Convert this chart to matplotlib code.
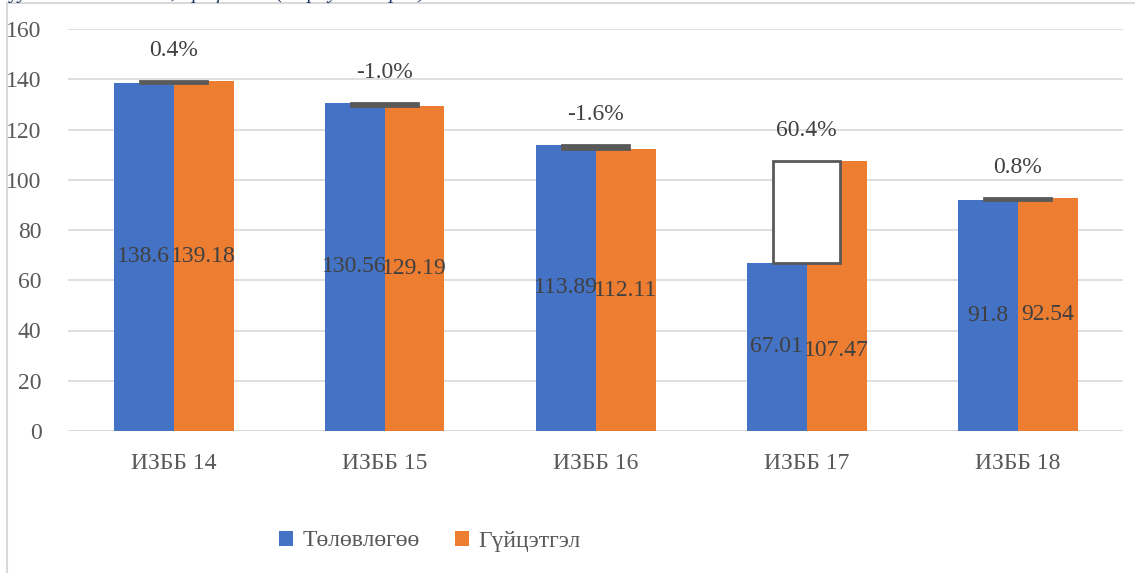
import matplotlib
matplotlib.use('agg')
from matplotlib import pyplot as plt
from matplotlib.patches import Patch, Rectangle
import numpy as np

plt.rcParams['font.family'] = ['Liberation Serif', 'DejaVu Serif']

# data
categories = ["ИЗББ 14", "ИЗББ 15", "ИЗББ 16", "ИЗББ 17", "ИЗББ 18"]
plan = [138.6, 130.56, 113.89, 67.01, 91.8]
actual = [139.18, 129.19, 112.11, 107.47, 92.54]
plan_labels = ["138.6", "130.56", "113.89", "67.01", "91.8"]
actual_labels = ["139.18", "129.19", "112.11", "107.47", "92.54"]
series_names = ["Төлөвлөгөө", "Гүйцэтгэл"]

BLUE = '#4472c4'
ORANGE = '#ed7d31'
DARK = '#595959'
GRID = '#d9d9d9'
LABEL = '#404040'

fig = plt.figure(figsize=(11.35, 5.73), dpi=100)
ax = fig.add_axes([68 / 1135, 1 - 431 / 573, 1055 / 1135, 402 / 573])

x = np.arange(len(categories))
w = 60 / 211

ax.bar(x - w / 2, plan, width=w, color=BLUE, zorder=2)
ax.bar(x + w / 2, actual, width=w, color=ORANGE, zorder=2)

# up/down bars between the two series
for i in range(len(x)):
    lo, hi = min(plan[i], actual[i]), max(plan[i], actual[i])
    face = 'white' if actual[i] >= plan[i] else DARK
    ax.add_patch(Rectangle((x[i] - 0.16, lo), 0.32, hi - lo, facecolor=face,
                           edgecolor=DARK, linewidth=2, zorder=3))
    pct = (actual[i] - plan[i]) / plan[i] * 100
    ax.annotate(f"{pct:.1f}%", (x[i], hi), xytext=(0, 22), textcoords='offset points',
                ha='center', va='center', fontsize=17, color=LABEL, zorder=5)

# value labels in the middle of the bars
for i in range(len(x)):
    ax.text(x[i] - w / 2, plan[i] / 2, plan_labels[i], ha='center', va='center',
            fontsize=17, color=LABEL, zorder=5)
    y_act = actual[i] / 2
    if actual[i] / plan[i] > 1.5:  # label moved down next to the short bar
        y_act = plan[i] / 2 - 1.5
    ax.text(x[i] + w / 2, y_act, actual_labels[i], ha='center', va='center',
            fontsize=17, color=LABEL, zorder=5)

ax.set_xlim(-0.5, len(x) - 0.5)
ax.set_ylim(0, 160)
ax.set_yticks(range(0, 161, 20))
ax.set_xticks(x)
ax.set_xticklabels(categories)
ax.grid(axis='y', color=GRID, linewidth=1.2, zorder=0)
ax.set_axisbelow(True)
for s in ax.spines.values():
    s.set_visible(False)
ax.axhline(0, color=GRID, linewidth=1.2, zorder=1)
ax.tick_params(axis='both', length=0, labelsize=17, labelcolor=DARK)
ax.tick_params(axis='y', pad=19)
ax.tick_params(axis='x', pad=16)

handles = [Patch(facecolor=BLUE), Patch(facecolor=ORANGE)]
fig.legend(handles, series_names, loc='center', bbox_to_anchor=(430 / 1135, 1 - 541 / 573),
           ncol=2, frameon=False, fontsize=17, labelcolor=DARK, handlelength=0.6,
           handleheight=0.6, handletextpad=0.4, columnspacing=1.5)

# chart frame (cut off at right and bottom)
fig.add_artist(Rectangle((7 / 1135, -0.1), 1.2, 1 - 3 / 573 + 0.1, transform=fig.transFigure,
                         fill=False, edgecolor=GRID, linewidth=1.5))

# caption above the frame, only its descenders are visible
fig.text(10 / 1135, 1 + 2 / 573, "уудын төлөвлөгөө, гүйцэтгэл (тэрбум төгрөг)", ha='left',
         va='baseline', fontsize=15, style='italic', color='#1f3864')

fig.savefig('out.png', dpi=100)
